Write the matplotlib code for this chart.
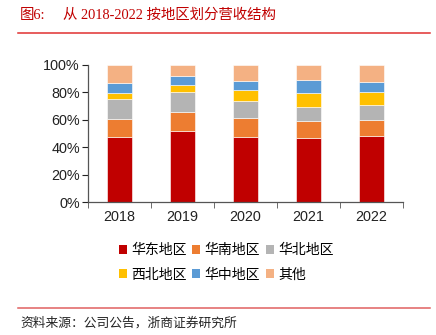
import numpy as np
import matplotlib.pyplot as plt
from matplotlib.lines import Line2D
from matplotlib.patches import Patch

plt.rcParams['font.family'] = ['Liberation Sans', 'Noto Sans CJK SC']

years = ['2018', '2019', '2020', '2021', '2022']
regions = ['华东地区', '华南地区', '华北地区', '西北地区', '华中地区', '其他']
colors = ['#C00000', '#ED7D31', '#B4B4B4', '#FFC000', '#5B9BD5', '#F4B183']

# revenue share by region (%)
east = [47.6, 51.5, 47.3, 46.8, 48.1]
south = [12.6, 13.8, 14.1, 12.4, 11.9]
north = [15.0, 14.6, 12.4, 10.2, 10.4]
northwest = [4.4, 5.3, 7.8, 10.0, 9.9]
central = [7.3, 6.8, 6.3, 9.7, 7.1]
other = [13.1, 8.0, 12.1, 10.9, 12.6]

series = [east, south, north, northwest, central, other]

fig = plt.figure(figsize=(4.36, 3.35), dpi=100)
ax = fig.add_axes([0.2025, 0.397, 0.7211, 0.41])

x = np.arange(len(years))
bottom = np.zeros(len(years))
handles = []
for vals, name, c in zip(series, regions, colors):
    ax.bar(x, vals, width=0.39, bottom=bottom, color=c,
           edgecolor='white', linewidth=0.4)
    bottom += np.array(vals)
    handles.append(Patch(facecolor=c, label=name))

ax.set_xlim(-0.5, 4.5)
ax.set_ylim(0, 100)
ax.set_yticks([0, 20, 40, 60, 80, 100])
ax.set_yticklabels([f'{v}%' for v in range(0, 101, 20)])
ax.set_xticks(x)
ax.set_xticklabels(years)
ax.set_xticks(np.arange(-0.5, 5, 1), minor=True)
ax.tick_params(axis='x', which='major', length=0, pad=6)
ax.tick_params(axis='x', which='minor', length=4, direction='out', color='#555555')
ax.tick_params(axis='y', length=4, direction='out', color='#555555', pad=2)
ax.tick_params(labelsize=10.4, colors='#222222')
for s in ['top', 'right']:
    ax.spines[s].set_visible(False)
for s in ['left', 'bottom']:
    ax.spines[s].set_color('#555555')
    ax.spines[s].set_linewidth(0.9)

# legend: two rows of three
order = [0, 3, 1, 4, 2, 5]
fig.legend([handles[i] for i in order], [regions[i] for i in order],
           ncol=3, loc='upper left', bbox_to_anchor=(0.272, 0.274),
           frameon=False, handlelength=0.6, handleheight=0.6,
           handletextpad=0.3, columnspacing=0.4, labelspacing=0.75,
           borderaxespad=0, borderpad=0,
           prop={'family': ['Noto Sans CJK SC'], 'size': 10})

# title and source
title_font = ['Liberation Serif', 'Noto Sans CJK SC']
fig.text(20 / 436, 0.955, '图6:', color='#C00000', fontsize=10.4,
         family=title_font, va='center')
fig.text(63 / 436, 0.955, '从 2018-2022 按地区划分营收结构', color='#C00000',
         fontsize=10.4, family=title_font, va='center')
fig.add_artist(Line2D([18 / 436, 430 / 436], [0.9015, 0.9015],
                      color='#E03030', linewidth=1.1, transform=fig.transFigure))
fig.add_artist(Line2D([18 / 436, 430 / 436], [0.081, 0.081],
                      color='#E06060', linewidth=1.1, transform=fig.transFigure))
fig.text(20 / 436, 0.036, '资料来源：公司公告，浙商证券研究所', color='#222222',
         fontsize=9.2, family=['Noto Sans CJK SC'], va='center')

fig.savefig('out.png', dpi=100)
